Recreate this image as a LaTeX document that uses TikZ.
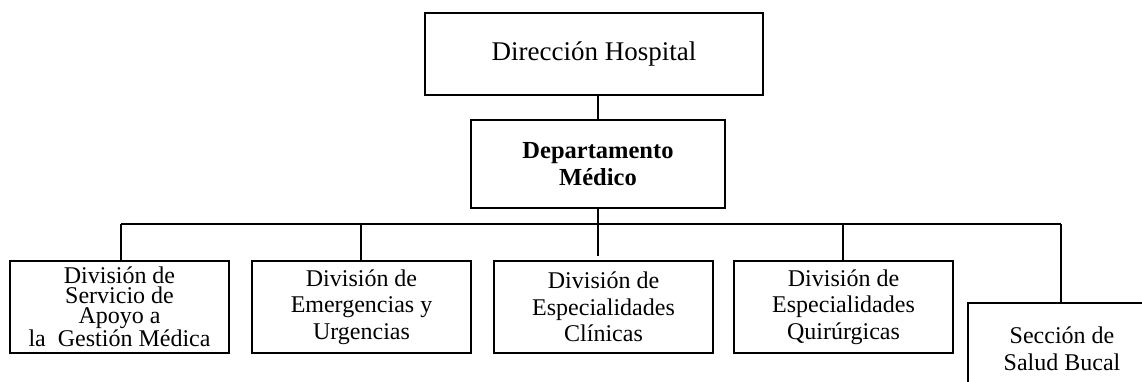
\documentclass[tikz,border=0pt]{standalone}
\usepackage{fontspec}
\setmainfont{Liberation Serif}
\begin{document}
\begin{tikzpicture}[x=1pt,y=-1pt,
  box/.style={draw,line width=1.4pt,rectangle,inner sep=0pt,align=center,
    font=\fontsize{24}{26.7}\selectfont},
  conn/.style={line width=1.3pt}]
\useasboundingbox (0,0) rectangle (1142,381);
\clip (0,0) rectangle (1142,381);
\node[box,minimum width=338pt,minimum height=82pt,font=\fontsize{27}{30}\selectfont] (dir) at (594,54) {Dirección Hospital};
\node[box,minimum width=254pt,minimum height=88pt,font=\fontsize{24.5}{26.7}\selectfont\bfseries] (dep) at (598,164) {Departamento\\Médico};
\node[box,minimum width=219pt,minimum height=92pt,font=\fontsize{24}{20}\selectfont] (b1) at (119.5,307) {División de\\Servicio de\\Apoyo a\\la~ Gestión Médica};
\node[box,minimum width=219pt,minimum height=92pt] (b2) at (361.5,307) {División de\\Emergencias y\\Urgencias};
\node[box,minimum width=219pt,minimum height=92pt] (b3) at (603.5,307) {División de\\Especialidades\\Clínicas};
\node[box,minimum width=219pt,minimum height=92pt] (b4) at (843.5,307) {División de\\Especialidades\\Quirúrgicas};
\node[box,minimum width=188pt,minimum height=92pt] (b5) at (1062,349) {Sección de\\Salud Bucal};
\coordinate (busL) at (121,224);
\coordinate (busR) at (1061,224);
\coordinate (mid) at (598,256);
\coordinate (d2) at (361,224);
\coordinate (d4) at (843,224);
\draw[conn] (dep.north) -- (dep.north |- dir.south);
\draw[conn] (dep.south) -- (mid);
\draw[conn] (busL) -- (busR);
\draw[conn] (busL) -- (busL |- b1.north);
\draw[conn] (d2) -- (d2 |- b2.north);
\draw[conn] (d4) -- (d4 |- b4.north);
\draw[conn] (busR) -- (busR |- b5.north);
\end{tikzpicture}
\end{document}
